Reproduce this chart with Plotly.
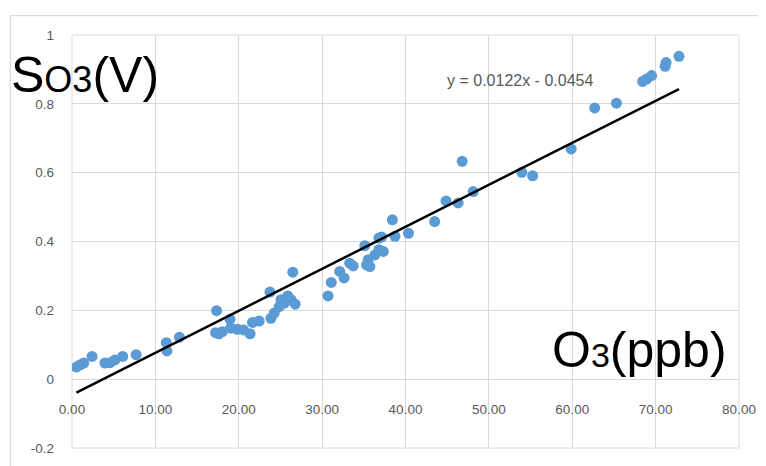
import plotly.graph_objects as go

# O3 concentration (ppb) and sensor signal (V)
o3_ppb = [0.53, 1.01, 1.41, 2.41, 3.95, 4.55, 5.15, 6.08, 7.69, 11.31, 11.39, 12.88,
          17.34, 17.22, 17.62, 18.03, 18.95, 19.03, 19.84, 20.57, 21.36, 21.65, 22.45,
          23.74, 23.86, 24.26, 24.86, 25.07, 25.47, 25.88, 26.28, 26.76, 26.48,
          30.71, 31.10, 32.11, 32.64, 33.31, 33.72, 35.12, 35.33, 35.73, 35.53, 36.33,
          36.81, 37.34, 36.81, 37.14, 38.43, 38.74, 40.36, 43.50, 44.86, 46.31, 46.80,
          48.12, 53.95, 55.25, 59.87, 62.69, 65.30, 68.44, 68.92, 69.52, 71.14, 71.26,
          72.8]
signal_v = [0.035, 0.042, 0.047, 0.066, 0.047, 0.048, 0.056, 0.066, 0.071, 0.106, 0.082, 0.122,
            0.199, 0.135, 0.132, 0.138, 0.174, 0.148, 0.145, 0.143, 0.132, 0.165, 0.169,
            0.253, 0.177, 0.192, 0.211, 0.231, 0.221, 0.242, 0.231, 0.218, 0.311,
            0.242, 0.281, 0.313, 0.294, 0.337, 0.329, 0.388, 0.332, 0.327, 0.347, 0.361,
            0.376, 0.371, 0.410, 0.413, 0.463, 0.415, 0.424, 0.458, 0.518, 0.512, 0.633,
            0.545, 0.601, 0.591, 0.669, 0.788, 0.802, 0.865, 0.872, 0.882, 0.909, 0.920,
            0.938]

slope = 0.0122
intercept = -0.0454

y_tickvals = [1, 0.8, 0.6, 0.4, 0.2, 0, -0.2]
y_ticktext = ["1", "0.8", "0.6", "0.4", "0.2", "0", "-0.2"]
x_tickvals = [0, 10, 20, 30, 40, 50, 60, 70, 80]

x_line = [min(o3_ppb), max(o3_ppb)]
y_line = [slope * v + intercept for v in x_line]

fig = go.Figure()
fig.add_trace(go.Scatter(x=o3_ppb, y=signal_v, mode="markers",
                         marker=dict(color="#5b9bd5", size=11, line=dict(width=0)),
                         showlegend=False))
fig.add_trace(go.Scatter(x=x_line, y=y_line, mode="lines",
                         line=dict(color="black", width=2.5), showlegend=False))

font_family = "Liberation Sans, Arial, sans-serif"
grid = "#d9d9d9"

# page body has an 8px default margin: the figure is shrunk by 8px so the plot lands in place
fig.update_layout(
    width=758, height=458,
    margin=dict(l=64, r=23, t=27, b=10),
    paper_bgcolor="white", plot_bgcolor="white",
    font=dict(family=font_family, color="#595959", size=12),
    xaxis=dict(range=[0, 80], tickvals=x_tickvals, tickformat=".2f",
               showgrid=True, gridcolor=grid, gridwidth=1, zeroline=False,
               showline=False, anchor="free", position=1/6,
               ticks="", ticklabelstandoff=20,
               tickfont=dict(size=13.5, color="#595959")),
    yaxis=dict(range=[-0.2, 1], tickvals=y_tickvals, ticktext=y_ticktext,
               showgrid=True, gridcolor=grid, gridwidth=1, zeroline=False,
               showline=False, ticks="", ticklabelstandoff=17,
               tickfont=dict(size=13.5, color="#595959")),
    shapes=[
        dict(type="rect", xref="paper", yref="paper", x0=0, x1=1, y0=0, y1=1,
             line=dict(color=grid, width=1), fillcolor="rgba(0,0,0,0)", layer="below"),
        dict(type="rect", xref="paper", yref="paper", x0=-0.0925, x1=1.1, y0=-0.15, y1=1.0468,
             line=dict(color=grid, width=1.2), fillcolor="rgba(0,0,0,0)", layer="below"),
    ],
    annotations=[
        dict(xref="paper", yref="paper", x=-0.094, y=0.904, xanchor="left", yanchor="middle",
             showarrow=False,
             text="S<span style='font-size:36px'>O3</span>(V)",
             font=dict(size=50, color="black", family=font_family)),
        dict(xref="paper", yref="paper", x=0.716, y=0.238, xanchor="left", yanchor="middle",
             showarrow=False,
             text="O<span style='font-size:34px'>3</span>(ppb)",
             font=dict(size=50, color="black", family=font_family)),
        dict(xref="paper", yref="paper", x=0.559, y=0.889, xanchor="left", yanchor="middle",
             showarrow=False, text="y = 0.0122x - 0.0454",
             font=dict(size=16, color="#595959", family=font_family)),
    ],
)

fig.write_html("out.html")
